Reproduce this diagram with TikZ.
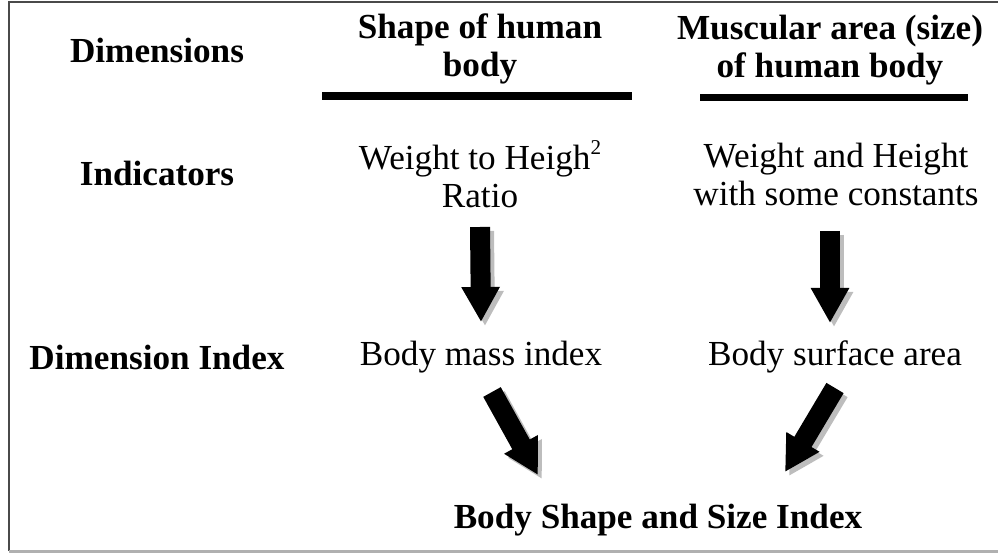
\documentclass[tikz,border=0pt]{standalone}
\usepackage{fontspec}
\setmainfont{Liberation Serif}
\usetikzlibrary{arrows.meta,calc}
\definecolor{cshade}{HTML}{BDBDBD}
\definecolor{cframe}{HTML}{4A4A4A}
\definecolor{cfloor}{HTML}{B0B0B0}
\tikzset{
  txt/.style={inner sep=0pt, align=center, font=\fontsize{10}{10.8}\selectfont},
  rowlbl/.style={txt, font=\fontsize{10}{10.8}\selectfont\bfseries},
  colhead/.style={rowlbl},
  bar/.style={fill=black},
  bigarr/.style={line width=2mm, -{Triangle[width=3.6mm,length=3.5mm]}},
  arrshade/.style={bigarr, draw=cshade, transform canvas={shift={(4,4)}}},
}
\newcommand\sqmark{\raisebox{0.95ex}{\fontsize{6}{6}\selectfont 2}}

\begin{document}
\begin{tikzpicture}[x=0.01cm,y=-0.01cm]
\useasboundingbox (0,0) rectangle (998,552);
\def\blockarr#1#2{%
  \draw[arrshade] #1 -- #2;
  \draw[bigarr] #1 -- #2;
}
% frame, open on the right
\draw[cframe, line width=0.25mm] (998,2) -- (9,2) -- (9,551);
\draw[cfloor, line width=0.3mm] (9,551) -- (998,551);
% row labels
\node[rowlbl] (dims) at (157,50) {Dimensions};
\node[rowlbl] (inds) at (157,173) {Indicators};
\node[rowlbl] (dimidx) at (157,357) {Dimension Index};
% column heads
\node[colhead] (shape) at (480,49) {Shape of human\\body};
\node[colhead] (muscle) at (830,50) {Muscular area (size)\\of human body};
\fill[bar] (322,92) rectangle (632,100);
\fill[bar] (700,94) rectangle (968,101);
% indicators
\node[txt] (hi1) at (480,174) {Weight to Heigh\sqmark\\Ratio};
\node[txt] (hi2) at (836,174) {Weight and Height\\with some constants};
% indices
\node[txt] (bmi) at (481,357) {Body mass index};
\node[txt] (bsa) at (835,357) {Body surface area};
\node[rowlbl] (total) at (658,520) {Body Shape and Size Index};
% arrows
\blockarr{($(hi1.center)+(0,53)$)}{($(bmi.center)+(0,-35)$)}
\blockarr{($(hi2.center)+(-6,57)$)}{($(bsa.center)+(-5,-34)$)}
\blockarr{($(bmi.center)+(11,35)$)}{($(total.center)+(-120,-45)$)}
\blockarr{($(bsa.center)+(0,31)$)}{($(total.center)+(127,-48)$)}
\end{tikzpicture}
\end{document}
